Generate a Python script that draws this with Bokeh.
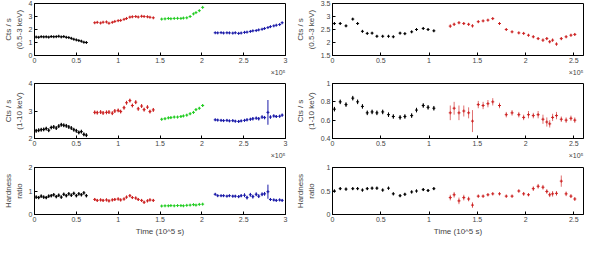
from bokeh.plotting import figure
from bokeh.layouts import column, row
from bokeh.models import Title, FixedTicker, Range1d
from bokeh.embed import file_html
from bokeh.resources import INLINE

# ---------------- data (time in 10^5 s) ----------------
# Left column
l_black_t = [0.02, 0.05, 0.08, 0.11, 0.14, 0.17, 0.20, 0.23, 0.26, 0.29, 0.32, 0.35, 0.38, 0.41, 0.44, 0.47, 0.50, 0.53, 0.56, 0.59, 0.62]
l_black_soft = [1.42, 1.40, 1.45, 1.43, 1.44, 1.41, 1.46, 1.44, 1.45, 1.48, 1.43, 1.46, 1.40, 1.38, 1.32, 1.25, 1.20, 1.15, 1.10, 1.02, 1.00]
l_black_hard = [2.28, 2.30, 2.32, 2.33, 2.36, 2.30, 2.40, 2.42, 2.38, 2.45, 2.50, 2.48, 2.46, 2.42, 2.38, 2.32, 2.28, 2.22, 2.25, 2.15, 2.12]
l_black_hr = [0.74, 0.72, 0.78, 0.74, 0.72, 0.78, 0.80, 0.84, 0.76, 0.82, 0.74, 0.86, 0.80, 0.88, 0.82, 0.90, 0.80, 0.88, 0.84, 0.92, 0.80]

l_red_t = [0.72, 0.75, 0.79, 0.82, 0.86, 0.89, 0.93, 0.96, 1.00, 1.03, 1.07, 1.10, 1.14, 1.17, 1.21, 1.24, 1.28, 1.31, 1.35, 1.38, 1.42]
l_red_soft = [2.52, 2.55, 2.50, 2.56, 2.58, 2.48, 2.55, 2.62, 2.68, 2.70, 2.78, 2.85, 2.95, 2.98, 3.00, 2.96, 3.02, 3.00, 2.98, 2.94, 2.90]
l_red_hard = [2.95, 2.94, 2.96, 2.93, 2.95, 2.96, 2.92, 3.00, 3.02, 2.98, 3.12, 3.30, 3.38, 3.20, 3.32, 3.08, 3.18, 3.05, 3.14, 2.98, 3.04]
l_red_hr = [0.64, 0.60, 0.62, 0.60, 0.62, 0.58, 0.62, 0.64, 0.66, 0.62, 0.66, 0.74, 0.80, 0.72, 0.70, 0.64, 0.60, 0.52, 0.58, 0.62, 0.60]

l_green_t = [1.52, 1.56, 1.60, 1.63, 1.67, 1.71, 1.75, 1.78, 1.82, 1.86, 1.90, 1.93, 1.97, 2.01]
l_green_soft = [2.80, 2.82, 2.85, 2.83, 2.85, 2.86, 2.85, 2.88, 2.90, 3.00, 3.20, 3.30, 3.45, 3.70]
l_green_hard = [2.70, 2.72, 2.75, 2.76, 2.78, 2.78, 2.80, 2.82, 2.85, 2.90, 2.95, 3.05, 3.10, 3.20]
l_green_hr = [0.36, 0.37, 0.37, 0.38, 0.37, 0.38, 0.38, 0.37, 0.39, 0.40, 0.42, 0.40, 0.43, 0.44]

l_blue_t = [2.16, 2.19, 2.23, 2.26, 2.30, 2.33, 2.37, 2.40, 2.44, 2.47, 2.51, 2.54, 2.58, 2.61, 2.65, 2.68, 2.72, 2.75, 2.79, 2.82, 2.86, 2.89, 2.93, 2.96]
l_blue_soft = [1.75, 1.74, 1.76, 1.73, 1.75, 1.74, 1.72, 1.75, 1.70, 1.73, 1.78, 1.80, 1.85, 1.90, 1.92, 1.97, 2.02, 2.08, 2.15, 2.22, 2.28, 2.33, 2.38, 2.52]
l_blue_hard = [2.68, 2.67, 2.66, 2.65, 2.66, 2.64, 2.65, 2.63, 2.62, 2.64, 2.66, 2.68, 2.70, 2.72, 2.74, 2.72, 2.78, 2.76, 2.95, 2.78, 2.82, 2.80, 2.81, 2.85]
l_blue_hr = [0.86, 0.80, 0.80, 0.80, 0.78, 0.80, 0.78, 0.78, 0.76, 0.80, 0.82, 0.72, 0.84, 0.76, 0.86, 0.78, 0.86, 0.88, 0.97, 0.64, 0.62, 0.60, 0.62, 0.60]
l_blue_hard_err = [0.04, 0.04, 0.04, 0.04, 0.04, 0.04, 0.04, 0.04, 0.05, 0.04, 0.05, 0.05, 0.05, 0.06, 0.05, 0.06, 0.06, 0.06, 0.45, 0.06, 0.05, 0.05, 0.05, 0.05]
l_blue_hr_err = [0.04, 0.04, 0.04, 0.04, 0.04, 0.04, 0.05, 0.05, 0.06, 0.06, 0.08, 0.08, 0.08, 0.08, 0.08, 0.08, 0.08, 0.08, 0.30, 0.06, 0.05, 0.05, 0.05, 0.05]

# Right column
r_black_t = [0.02, 0.08, 0.14, 0.21, 0.26, 0.31, 0.36, 0.41, 0.46, 0.52, 0.58, 0.63, 0.70, 0.75, 0.82, 0.87, 0.94, 0.99, 1.05]
r_black_soft = [2.73, 2.73, 2.64, 2.90, 2.73, 2.43, 2.35, 2.36, 2.24, 2.24, 2.24, 2.22, 2.36, 2.34, 2.41, 2.50, 2.54, 2.50, 2.45]
r_black_hard = [0.72, 0.80, 0.77, 0.84, 0.80, 0.75, 0.68, 0.69, 0.68, 0.69, 0.66, 0.64, 0.63, 0.64, 0.65, 0.71, 0.76, 0.74, 0.73]
r_black_hr = [0.50, 0.55, 0.54, 0.55, 0.55, 0.52, 0.55, 0.56, 0.56, 0.52, 0.56, 0.44, 0.40, 0.43, 0.48, 0.50, 0.53, 0.51, 0.55]

r_red_t = [1.22, 1.26, 1.31, 1.36, 1.41, 1.45, 1.51, 1.56, 1.61, 1.66, 1.73, 1.80, 1.86, 1.93, 1.98, 2.03, 2.08, 2.13, 2.18, 2.22, 2.25, 2.28, 2.32, 2.37, 2.42, 2.47, 2.51]
r_red_soft = [2.63, 2.70, 2.76, 2.73, 2.70, 2.64, 2.80, 2.83, 2.86, 2.92, 2.73, 2.50, 2.41, 2.37, 2.35, 2.28, 2.22, 2.15, 2.09, 2.15, 2.03, 2.09, 1.94, 2.15, 2.22, 2.28, 2.31]
r_red_soft_err = [0.06, 0.06, 0.05, 0.05, 0.05, 0.06, 0.04, 0.04, 0.04, 0.04, 0.04, 0.04, 0.04, 0.04, 0.04, 0.04, 0.05, 0.05, 0.06, 0.06, 0.06, 0.06, 0.06, 0.06, 0.05, 0.05, 0.05]
r_red_hard = [0.68, 0.73, 0.68, 0.70, 0.68, 0.59, 0.77, 0.76, 0.78, 0.80, 0.76, 0.66, 0.68, 0.66, 0.63, 0.66, 0.65, 0.66, 0.61, 0.58, 0.56, 0.63, 0.65, 0.61, 0.60, 0.62, 0.60]
r_red_hard_err = [0.08, 0.07, 0.08, 0.06, 0.06, 0.12, 0.04, 0.04, 0.04, 0.04, 0.03, 0.03, 0.03, 0.03, 0.03, 0.04, 0.03, 0.04, 0.05, 0.05, 0.04, 0.04, 0.04, 0.03, 0.03, 0.03, 0.03]
r_red_hr = [0.36, 0.42, 0.29, 0.36, 0.33, 0.20, 0.39, 0.39, 0.42, 0.44, 0.44, 0.39, 0.39, 0.50, 0.44, 0.42, 0.55, 0.60, 0.58, 0.49, 0.42, 0.44, 0.45, 0.71, 0.44, 0.39, 0.33]
r_red_hr_err = [0.06, 0.06, 0.07, 0.06, 0.05, 0.06, 0.03, 0.03, 0.03, 0.03, 0.03, 0.03, 0.03, 0.03, 0.04, 0.03, 0.05, 0.05, 0.05, 0.05, 0.05, 0.06, 0.05, 0.12, 0.05, 0.04, 0.04]

# axis settings
l_xticks = [0, 0.5, 1, 1.5, 2, 2.5, 3]
r_xticks = [0, 0.5, 1, 1.5, 2, 2.5]
l_soft_ticks = [0, 1, 2, 3, 4]
l_hard_ticks = [2, 3, 4]
l_hr_ticks = [0, 1, 2]
r_soft_ticks = [1.5, 2, 2.5, 3, 3.5]
r_hard_ticks = [0.4, 0.6, 0.8, 1]
r_hr_ticks = [0, 0.5, 1]

BLACK = "#000000"
RED = "#cc2222"
GREEN = "#22cc22"
BLUE = "#1a1aa8"
TXT = "#444444"
FONT = "Liberation Sans"


def panel(xr, xticks, yr, yticks, ylabel, width, height, bl, br, bt, bb,
          xlabel=None, sci=False):
    p = figure(width=width, height=height, output_backend="svg", toolbar_location=None,
               x_range=Range1d(*xr), y_range=Range1d(*yr),
               min_border_left=bl, min_border_right=br, min_border_top=bt, min_border_bottom=bb)
    p.background_fill_color = "white"
    p.border_fill_color = "white"
    p.outline_line_color = "black"
    p.outline_line_width = 1
    p.grid.visible = False
    for ax in (p.xaxis[0], p.yaxis[0]):
        ax.major_tick_in = 3
        ax.major_tick_out = 0
        ax.minor_tick_in = 0
        ax.minor_tick_out = 0
        ax.major_label_text_font = FONT
        ax.major_label_text_font_size = "7px"
        ax.major_label_text_color = TXT
        ax.major_label_standoff = 2
        ax.axis_line_color = "black"
        ax.major_tick_line_color = "black"
        ax.axis_label_text_font = FONT
        ax.axis_label_text_font_style = "normal"
        ax.axis_label_text_font_size = "8px"
        ax.axis_label_text_color = TXT
        ax.axis_label_standoff = 2
    p.xaxis.ticker = FixedTicker(ticks=xticks)
    p.yaxis.ticker = FixedTicker(ticks=yticks)
    p.yaxis.axis_label = ylabel
    if xlabel:
        p.xaxis.axis_label = xlabel
    if sci:
        p.add_layout(Title(text="×10⁵", align="right", text_font=FONT, text_font_size="7px",
                           text_color=TXT, text_font_style="normal", standoff=2, offset=0), "below")
    return p


def series(p, t, y, err, color, err_color=None):
    lo = [a - e for a, e in zip(y, err)]
    hi = [a + e for a, e in zip(y, err)]
    p.segment(x0=t, y0=lo, x1=t, y1=hi, line_color=err_color or color, line_width=1)
    p.scatter(x=t, y=y, marker="cross", size=3, line_color=color, line_width=1)


def const(n, e):
    return [e] * n


LW, RW = 292, 292
H1, H2, H3 = 78, 84, 76

# left top
a = panel((0, 3), l_xticks, (0, 4), l_soft_ticks, "Cts / s\n(0.5-3 keV)", LW, H1, 27, 7, 3, 23, sci=True)
series(a, l_black_t, l_black_soft, const(len(l_black_t), 0.05), BLACK)
series(a, l_red_t, l_red_soft, const(len(l_red_t), 0.05), RED)
series(a, l_green_t, l_green_soft, const(len(l_green_t), 0.05), GREEN)
series(a, l_blue_t, l_blue_soft, const(len(l_blue_t), 0.05), BLUE)

# left middle
b = panel((0, 3), l_xticks, (2, 4), l_hard_ticks, "Cts / s\n(1-10 keV)", LW, H2, 27, 7, 5, 24, sci=True)
series(b, l_black_t, l_black_hard, const(len(l_black_t), 0.07), BLACK)
series(b, l_red_t, l_red_hard, const(len(l_red_t), 0.07), RED)
series(b, l_green_t, l_green_hard, const(len(l_green_t), 0.04), GREEN)
series(b, l_blue_t, l_blue_hard, l_blue_hard_err, BLUE)

# left bottom
c = panel((0, 3), l_xticks, (0, 2), l_hr_ticks, "Hardness\nratio", LW, H3, 27, 7, 5, 19, xlabel="Time (10^5 s)")
series(c, l_black_t, l_black_hr, const(len(l_black_t), 0.07), BLACK)
series(c, l_red_t, l_red_hr, const(len(l_red_t), 0.06), RED)
series(c, l_green_t, l_green_hr, const(len(l_green_t), 0.03), GREEN)
series(c, l_blue_t, l_blue_hr, l_blue_hr_err, BLUE)

# right top
d = panel((0, 2.6), r_xticks, (1.5, 3.5), r_soft_ticks, "Cts / s\n(0.5-3 keV)", RW, H1, 39, 1, 3, 23, sci=True)
series(d, r_black_t, r_black_soft, const(len(r_black_t), 0.04), BLACK)
series(d, r_red_t, r_red_soft, r_red_soft_err, RED, "#e07070")

# right middle
e = panel((0, 2.6), r_xticks, (0.4, 1.0), r_hard_ticks, "Cts / s\n(1-10 keV)", RW, H2, 39, 1, 5, 24, sci=True)
series(e, r_black_t, r_black_hard, const(len(r_black_t), 0.025), BLACK)
series(e, r_red_t, r_red_hard, r_red_hard_err, RED, "#e07070")

# right bottom
f = panel((0, 2.6), r_xticks, (0, 1), r_hr_ticks, "Hardness\nratio", RW, H3, 39, 1, 5, 19, xlabel="Time (10^5 s)")
series(f, r_black_t, r_black_hr, const(len(r_black_t), 0.03), BLACK)
series(f, r_red_t, r_red_hr, r_red_hr_err, RED, "#e07070")

layout = column(row(a, d), row(b, e), row(c, f))

open("out.html", "w").write(file_html(layout, INLINE))
